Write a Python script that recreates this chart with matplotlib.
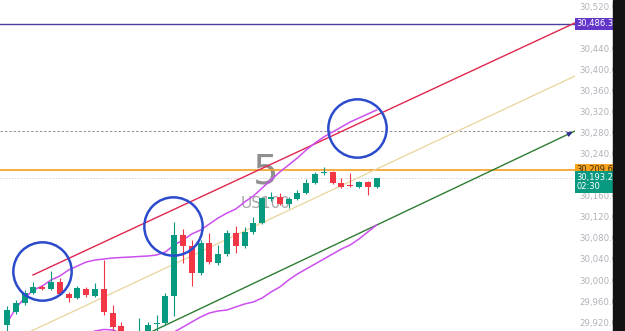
"""
US100 5-minute candles with trend channel and marked touches
"""

import matplotlib.pyplot as plt

# candle data, index 0..42
opens = [29915, 29939, 29957, 29975, 29987, 29983, 29996, 29974, 29966, 29983, 29970,
         29983, 29938, 29913, 29895, 29886, 29894, 29917, 29919, 29970, 30086, 30065,
         30013, 30070, 30032, 30049, 30089, 30065, 30091, 30108, 30154, 30158, 30144,
         30154, 30165, 30184, 30203, 30205, 30184, 30180, 30177, 30186, 30177]
highs = [29951, 29962, 29981, 29996, 29991, 30017, 30004, 29977, 29989, 29987, 29994,
         30038, 29953, 29920, 29901, 29928, 29920, 29934, 29976, 30110, 30097, 30076,
         30076, 30089, 30067, 30095, 30103, 30101, 30120, 30158, 30167, 30165, 30158,
         30171, 30192, 30205, 30215, 30207, 30194, 30203, 30188, 30188, 30194]
lows = [29895, 29936, 29953, 29974, 29981, 29981, 29972, 29958, 29964, 29968, 29968,
        29934, 29905, 29886, 29867, 29877, 29890, 29901, 29915, 29932, 30032, 29989,
        30010, 30030, 30029, 30046, 30051, 30061, 30087, 30106, 30150, 30142, 30137,
        30152, 30163, 30182, 30199, 30182, 30175, 30177, 30175, 30161, 30175]
closes = [29943, 29957, 29975, 29987, 29983, 29996, 29974, 29966, 29985, 29972, 29983,
          29939, 29911, 29896, 29882, 29901, 29915, 29919, 29970, 30086, 30065, 30013,
          30070, 30034, 30049, 30089, 30065, 30091, 30108, 30156, 30158, 30144, 30154,
          30165, 30184, 30201, 30205, 30184, 30177, 30179, 30186, 30177, 30193.2]

# moving averages
ma_fast = [29918.5, 29947.0, 29966.0, 29981.1, 29988.7, 30000.1, 30007.7, 30019.1, 30026.7,
           30034.2, 30038.0, 30039.9, 30041.8, 30042.8, 30043.7, 30044.7, 30045.6, 30047.5,
           30053.2, 30066.5, 30076.0, 30087.4, 30095.0, 30106.4, 30117.8, 30127.2, 30134.8,
           30148.1, 30159.5, 30174.7, 30189.9, 30205.0, 30218.3, 30231.6, 30246.8, 30260.1,
           30271.5, 30280.9, 30290.4, 30299.9, 30307.5, 30315.1, 30322.7]
ma_slow_idx = list(range(8, 43))
ma_slow = [29886.2, 29897.6, 29903.3, 29906.2, 29905.2, 29899.5, 29890.0, 29880.6, 29876.7,
           29880.6, 29890.0, 29901.4, 29910.9, 29920.4, 29929.9, 29937.5, 29941.3, 29943.2,
           29948.9, 29954.6, 29958.4, 29966.0, 29977.3, 29986.8, 30000.1, 30011.5, 30021.0,
           30030.4, 30039.9, 30049.4, 30058.9, 30066.5, 30077.9, 30091.2, 30104.5]

# trend lines: (index, price) endpoints
upper_line = [(2.95, 30009.6), (64.55, 30488.0)]
mid_line = [(2.05, 29897.6), (64.55, 30387.2)]
lower_line = [(16.6, 29903.3), (64.55, 30282.8)]

# horizontal levels
level_top = 30486.3
level_target = 30282.8
level_orange = 30209.6
last_price = 30193.2

# marked touches (index, price)
circles = [(3.98, 30017.2), (18.9, 30101.6), (39.8, 30288.5)]

# price scale labels (30,480 and 30,200 sit under the tags)
yticks = [29920, 29960, 30000, 30040, 30080, 30120, 30160, 30240, 30280,
          30320, 30360, 30400, 30440, 30520]

UP = '#089981'
DOWN = '#f23645'


def main():
    fig = plt.figure(figsize=(6.25, 3.31), dpi=100)
    ax = fig.add_axes([0, 0, 575 / 625, 1])
    ax.set_xlim(-0.8, 64.55)
    ax.set_ylim(29903.3, 30531.4)
    for s in ax.spines.values():
        s.set_visible(False)
    ax.set_xticks([])
    ax.yaxis.tick_right()
    ax.set_yticks(yticks)
    ax.set_yticklabels([f'{v:,.1f}' for v in yticks])
    ax.tick_params(axis='y', length=0, pad=3, labelsize=6.2, labelcolor='#b0b3ba')

    # watermark
    ax.text(29.4, 30205, '5', fontsize=29, color='#8f8f8f', ha='center', va='center',
            family='DejaVu Sans', zorder=0)
    ax.text(29.4, 30146, 'US100', fontsize=11, color='#a6a6a6', ha='center', va='center',
            family='DejaVu Sans', zorder=0)

    # levels
    ax.axhline(level_top, color='#4c3f9f', lw=1.0, zorder=2)
    ax.axhline(level_target, color='#8d9099', lw=0.7, ls=(0, (2.5, 2)), zorder=2)
    ax.axhline(level_orange, color='#f5a020', lw=1.2, zorder=2)
    ax.axhline(last_price, color='#c4c6cc', lw=0.6, ls=(0, (1.5, 2)), zorder=2)

    # trend channel
    ax.plot(*zip(*upper_line), color='#e0264e', lw=1.0, zorder=3)
    ax.plot(*zip(*mid_line), color='#e8d59c', lw=0.9, zorder=3)
    ax.plot(*zip(*lower_line), color='#2e7d32', lw=1.0, zorder=3)
    x0, y0 = lower_line[0]
    x1, y1 = lower_line[1]
    ax.annotate('', xy=(x1, y1), xytext=(x1 - 0.9, y1 - (y1 - y0) / (x1 - x0) * 0.9),
                arrowprops=dict(arrowstyle='-|>', color='#2f2f8f', lw=0.8,
                                mutation_scale=7), zorder=4)

    # moving averages
    ax.plot(range(len(ma_fast)), ma_fast, color='#cc4ff0', lw=1.1, zorder=3)
    ax.plot(ma_slow_idx, ma_slow, color='#cc4ff0', lw=1.1, zorder=3)

    # candles
    for i, (o, h, l, c) in enumerate(zip(opens, highs, lows, closes)):
        col = UP if c >= o else DOWN
        ax.vlines(i, l, h, color=col, lw=0.8, zorder=4)
        bot, top = min(o, c), max(o, c)
        ax.bar(i, max(top - bot, 0.8), bottom=bot, width=0.68, color=col, zorder=5)

    # circled touches
    cx, cy = zip(*circles)
    ax.plot(cx, cy, 'o', ms=42, mfc='none', mec='#2c4bcc', mew=1.8, zorder=6)

    # price labels
    def tag(y, text, bg, fg):
        ax.text(1.003, y, text, transform=ax.get_yaxis_transform(), ha='left',
                va='center', fontsize=6.0, color=fg, zorder=10, linespacing=1.1,
                bbox=dict(boxstyle='square,pad=0.18', fc=bg, ec='none'))

    tag(level_top, f'{level_top:,.1f}', '#6236c9', 'white')
    tag(level_orange, f'{level_orange:,.1f}', '#f7a21b', '#3a2a10')
    tag(last_price - 7, f'{last_price:,.1f}\n02:30', UP, 'white')

    # dark toolbar strip
    fig.patches.append(plt.Rectangle((613 / 625, 0), 12 / 625, 1, transform=fig.transFigure,
                                     color='#131313', zorder=0))

    fig.savefig('out.png', dpi=100)


if __name__ == '__main__':
    main()
